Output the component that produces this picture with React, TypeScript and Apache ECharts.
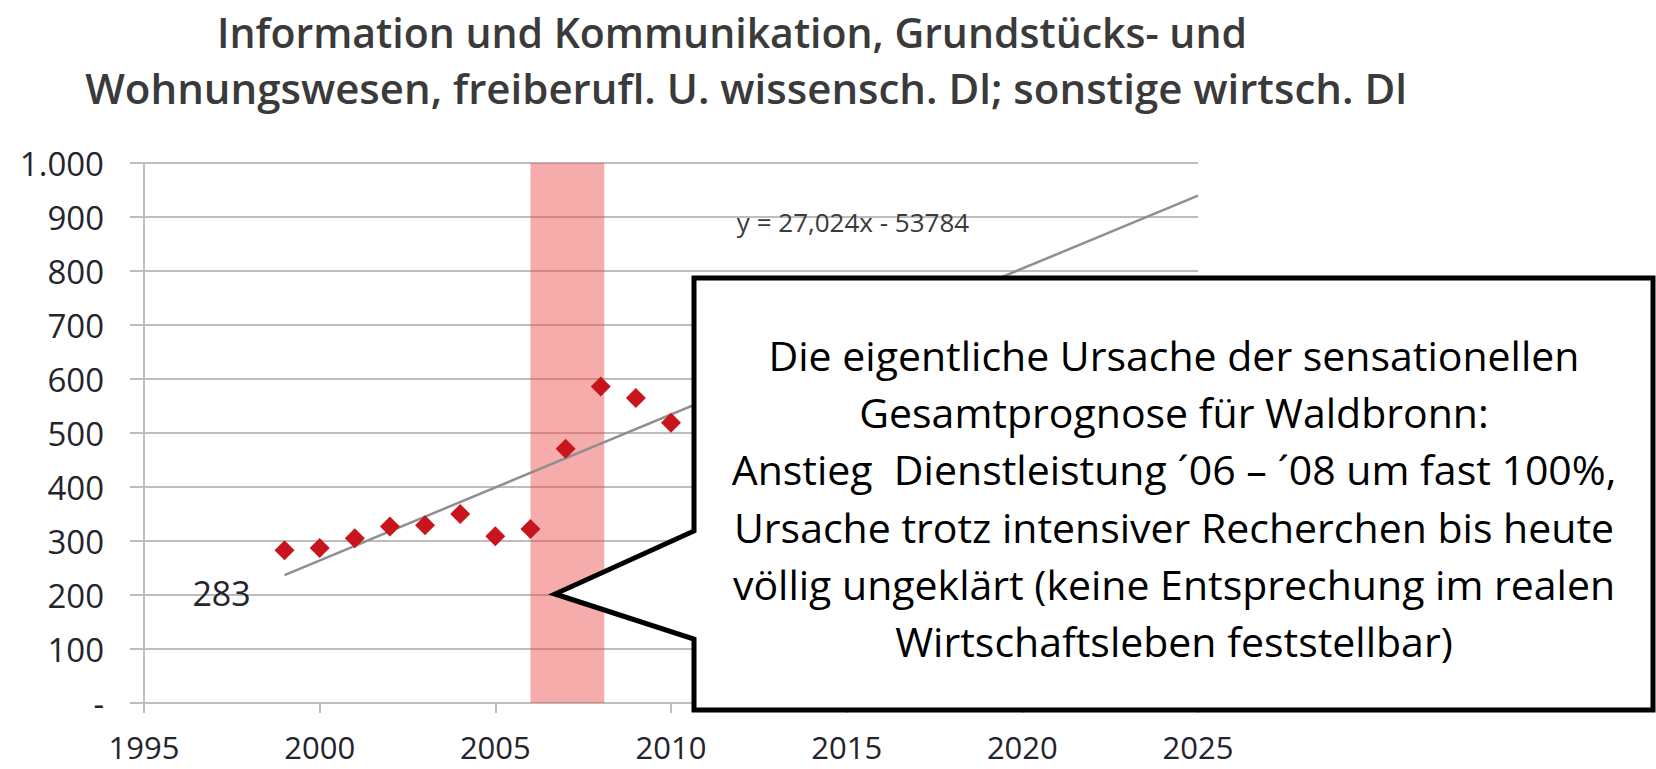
import React, { useEffect, useRef } from "react";
import * as echarts from "echarts";

const years = [1999, 2000, 2001, 2002, 2003, 2004, 2005, 2006, 2007, 2008, 2009, 2010];
const values = [283, 287, 305, 327, 329, 350, 309, 322, 471, 586, 565, 519];
const trendSlope = 27.024;
const trendIntercept = -53784;
const trendYears = [1999, 2025];
const bandYears = [2006, 2008.1];
const xTicks = [1995, 2000, 2005, 2010, 2015, 2020, 2025];
const yMax = 1000;
const titleLines = [
  "Information und Kommunikation, Grundstücks- und",
  "Wohnungswesen, freiberufl. U. wissensch. Dl; sonstige wirtsch. Dl",
];
const equationText = "y = 27,024x - 53784";
const firstLabel = "283";
const calloutLines = [
  "Die eigentliche Ursache der sensationellen",
  "Gesamtprognose für Waldbronn:",
  "Anstieg  Dienstleistung ´06 – ´08 um fast 100%,",
  "Ursache trotz intensiver Recherchen bis heute",
  "völlig ungeklärt (keine Entsprechung im realen",
  "Wirtschaftsleben feststellbar)",
];

const FONT = "'Open Sans', sans-serif";
const GRID = "#bdbdbd";
const LABEL = "#24242c";

export default function App() {
  const ref = useRef<HTMLDivElement>(null);
  useEffect(() => {
    if (!ref.current) return;
    const chart = echarts.init(ref.current, undefined, { renderer: "svg" });
    const points = years.map((y, i) => ({
      value: [y, values[i]],
      label:
        i === 0
          ? {
              show: true,
              formatter: firstLabel,
              position: "inside",
              offset: [-63, 43],
              color: LABEL,
              fontSize: 34,
              fontFamily: FONT,
            }
          : undefined,
    }));
    const trend = trendYears.map((y) => [y, trendSlope * y + trendIntercept]);
    chart.setOption({
      animation: false,
      backgroundColor: "#ffffff",
      title: [
        {
          text: titleLines[0],
          left: 727,
          top: 2,
          textAlign: "center",
          textStyle: { fontFamily: FONT, fontSize: 41, lineHeight: 50, fontWeight: 600, color: "#3a3a3a" },
        },
        {
          text: titleLines[1],
          left: 741,
          top: 57,
          textAlign: "center",
          textStyle: { fontFamily: FONT, fontSize: 42, lineHeight: 50, fontWeight: 600, color: "#3a3a3a" },
        },
      ],
      grid: { left: 144, right: 458, top: 163, bottom: 66, containLabel: false },
      xAxis: {
        type: "value",
        min: xTicks[0],
        max: xTicks[xTicks.length - 1],
        interval: 5,
        splitLine: { show: false },
        axisLine: { show: true, lineStyle: { color: GRID, width: 2 } },
        axisTick: { show: true, length: 10, lineStyle: { color: GRID, width: 2 } },
        axisLabel: {
          color: LABEL,
          fontSize: 31,
          lineHeight: 31,
          fontFamily: FONT,
          margin: 28,
          formatter: (v: number) => String(v),
        },
      },
      yAxis: {
        type: "value",
        min: 0,
        max: yMax,
        interval: 100,
        splitLine: { show: true, lineStyle: { color: GRID, width: 2 } },
        axisLine: { show: true, lineStyle: { color: GRID, width: 2 } },
        axisTick: { show: true, length: 14, lineStyle: { color: GRID, width: 2 } },
        axisLabel: {
          color: LABEL,
          fontSize: 33,
          fontFamily: FONT,
          margin: 40,
          formatter: (v: number) => (v === 0 ? "-" : v >= 1000 ? v.toLocaleString("de-DE") : String(v)),
        },
      },
      series: [
        {
          type: "line",
          data: trend,
          symbol: "none",
          lineStyle: { color: "#8f8f8f", width: 2.5 },
          z: 2,
          markArea: {
            silent: true,
            itemStyle: { color: "rgba(238, 70, 70, 0.45)" },
            data: [[{ xAxis: bandYears[0] }, { xAxis: bandYears[1] }]],
          },
        },
        {
          type: "scatter",
          data: points,
          symbol: "diamond",
          symbolSize: 20,
          itemStyle: { color: "#c8141c", opacity: 1 },
          z: 3,
        },
      ],
      graphic: [
        {
          type: "text",
          x: 853,
          y: 222,
          z: 5,
          style: {
            text: equationText,
            fontFamily: FONT,
            fontSize: 26,
            fill: "#3a3a3a",
            textAlign: "center",
            textVerticalAlign: "middle",
          },
        },
        {
          type: "polygon",
          z: 10,
          shape: {
            points: [
              [694, 278],
              [1653, 278],
              [1653, 710],
              [694, 710],
              [694, 639],
              [555, 594],
              [694, 531],
            ],
          },
          style: { fill: "#ffffff", stroke: "#000000", lineWidth: 5, lineJoin: "miter" },
        },
        {
          type: "text",
          x: 1174,
          y: 498,
          z: 11,
          style: {
            text: calloutLines.join("\n"),
            fontFamily: FONT,
            fontSize: 41,
            lineHeight: 57.3,
            fill: "#000000",
            textAlign: "center",
            textVerticalAlign: "middle",
          },
        },
      ],
    });
    return () => chart.dispose();
  }, []);
  return (
    <div
      ref={ref}
      style={{ position: "fixed", left: 0, top: 0, width: 1656, height: 769 }}
    />
  );
}
